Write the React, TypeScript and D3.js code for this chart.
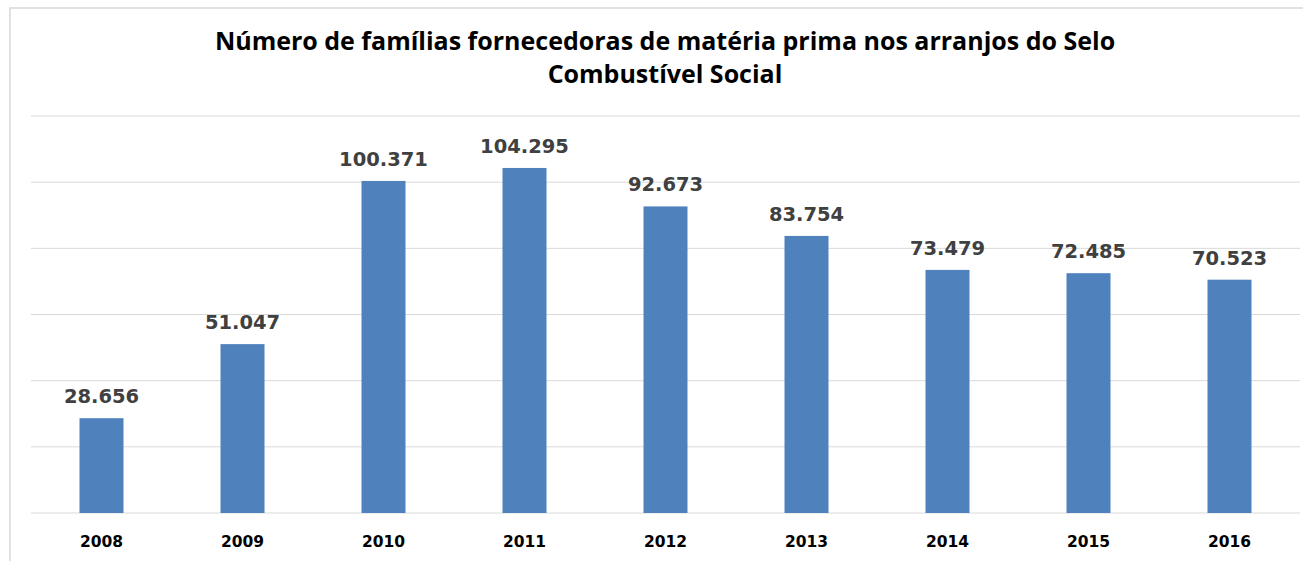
import React from "react";
import * as d3 from "d3";

const years = ["2008", "2009", "2010", "2011", "2012", "2013", "2014", "2015", "2016"];
const values = [28656, 51047, 100371, 104295, 92673, 83754, 73479, 72485, 70523];
const gridTicks = [0, 20000, 40000, 60000, 80000, 100000, 120000];
const titleLines = [
  "Número de famílias fornecedoras de matéria prima nos arranjos do Selo",
  "Combustível Social",
];

const W = 1303;
const H = 561;

export default function App() {
  const x = d3
    .scaleBand<string>()
    .domain(years)
    .range([31, 1300])
    .paddingInner(0.688)
    .paddingOuter(0.344);
  const y = d3.scaleLinear().domain([0, 120000]).range([513, 116]);
  const fmt = (v: number) => d3.format(",")(v).replace(/,/g, ".");

  return (
    <svg
      width={W}
      height={H}
      style={{ position: "absolute", left: 0, top: 0, background: "#fff" }}
    >
      <rect x={0} y={0} width={W} height={H} fill="#fff" />
      <rect x={10} y={8} width={W} height={H} fill="#fff" stroke="#d9d9d9" strokeWidth={1.5} />
      {titleLines.map((t, i) => (
        <text
          key={i}
          x={665}
          y={50 + i * 33}
          textAnchor="middle"
          fontFamily="'Open Sans', sans-serif"
          fontWeight="bold"
          fontSize={25}
          fill="#000"
        >
          {t}
        </text>
      ))}
      {gridTicks.map((t) => (
        <line key={t} x1={31} x2={1300} y1={y(t)} y2={y(t)} stroke="#d9d9d9" strokeWidth={1} />
      ))}
      {years.map((yr, i) => (
        <g key={yr}>
          <rect
            x={x(yr)!}
            y={y(values[i])}
            width={x.bandwidth()}
            height={y(0) - y(values[i])}
            fill="#4f81bd"
          />
          <text
            x={x(yr)! + x.bandwidth() / 2}
            y={y(values[i]) - 15}
            textAnchor="middle"
            fontFamily="'DejaVu Sans', sans-serif"
            fontWeight="bold"
            fontSize={19.5}
            fill="#404040"
          >
            {fmt(values[i])}
          </text>
          <text
            x={x(yr)! + x.bandwidth() / 2}
            y={547}
            textAnchor="middle"
            fontFamily="'DejaVu Sans', sans-serif"
            fontWeight="bold"
            fontSize={15.5}
            fill="#000"
          >
            {yr}
          </text>
        </g>
      ))}
    </svg>
  );
}
